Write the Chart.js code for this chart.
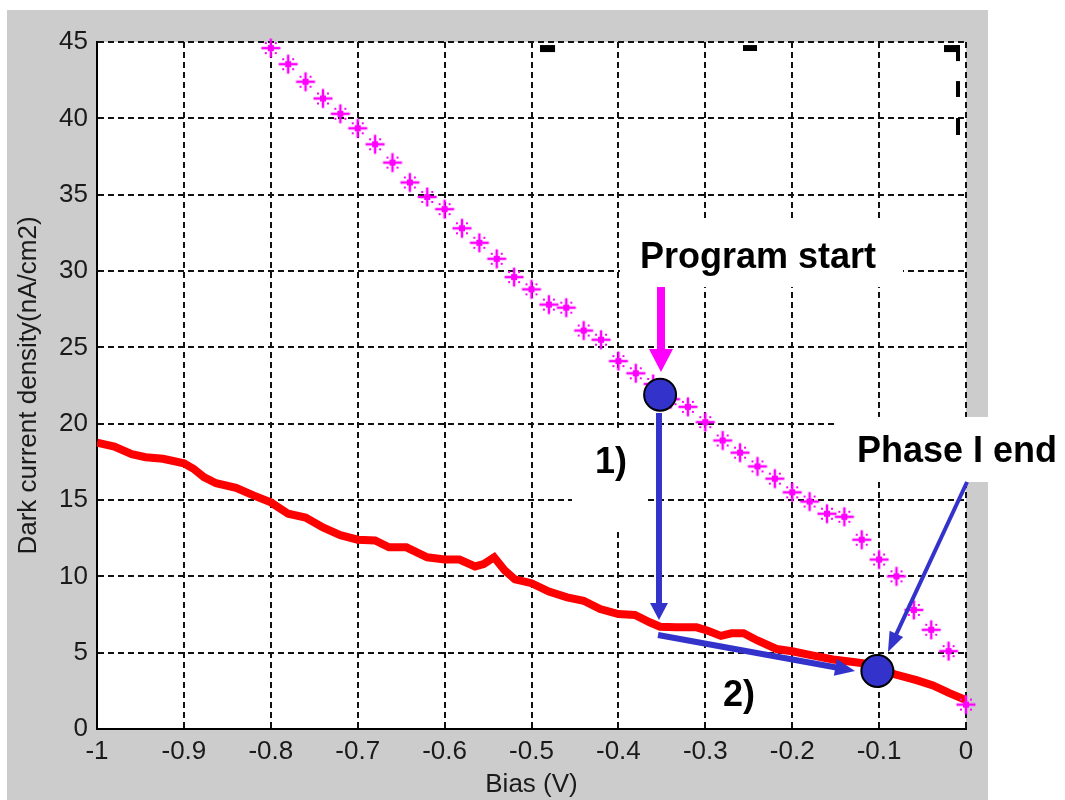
<!DOCTYPE html>
<html>
<head>
<meta charset="utf-8">
<title>Dark current density vs bias</title>
<script src="https://cdn.jsdelivr.net/npm/chart.js@4.4.1/dist/chart.umd.min.js"></script>
<style>
  html, body { margin: 0; padding: 0; background: #fff; }
  #wrap { width: 1065px; height: 800px; }
</style>
</head>
<body>
<div id="wrap"><canvas id="chart" width="1065" height="800"></canvas></div>
<script>
// ---- values ----
const redBias = [-1.00, -0.98, -0.96, -0.944, -0.924, -0.90, -0.889, -0.877, -0.863, -0.84,
  -0.82, -0.80, -0.78, -0.76, -0.74, -0.72, -0.70, -0.68, -0.664, -0.644,
  -0.62, -0.60, -0.583, -0.565, -0.555, -0.543, -0.531, -0.519, -0.50, -0.48,
  -0.459, -0.44, -0.421, -0.40, -0.381, -0.364, -0.352, -0.333, -0.31, -0.297,
  -0.282, -0.27, -0.256, -0.24, -0.218, -0.20, -0.18, -0.153, -0.125, -0.10,
  -0.083, -0.057, -0.038, -0.019, 0.00];
const redCurrent = [18.75, 18.5, 18.0, 17.8, 17.7, 17.4, 17.05, 16.5, 16.1, 15.8,
  15.3, 14.85, 14.1, 13.85, 13.2, 12.7, 12.4, 12.35, 11.9, 11.9,
  11.25, 11.1, 11.1, 10.65, 10.8, 11.25, 10.4, 9.8, 9.55, 9.0,
  8.62, 8.4, 7.86, 7.53, 7.47, 6.99, 6.7, 6.66, 6.66, 6.44,
  6.1, 6.27, 6.27, 5.8, 5.24, 5.09, 4.85, 4.55, 4.35, 4.15,
  3.6, 3.2, 2.85, 2.35, 1.9];

const starBias = [-0.80, -0.78, -0.76, -0.74, -0.72, -0.70, -0.68, -0.66, -0.64, -0.62,
  -0.60, -0.58, -0.56, -0.54, -0.52, -0.50, -0.48, -0.46, -0.44, -0.42,
  -0.40, -0.38, -0.36, -0.34, -0.32, -0.30, -0.28, -0.26, -0.24, -0.22,
  -0.20, -0.18, -0.16, -0.14, -0.12, -0.10, -0.08, -0.06, -0.04, -0.02, 0.00];
const starCurrent = [44.6, 43.55, 42.4, 41.3, 40.3, 39.35, 38.3, 37.1, 35.8, 34.85,
  34.05, 32.8, 31.85, 30.8, 29.6, 28.8, 27.8, 27.6, 26.1, 25.5,
  24.1, 23.3, 22.6, 21.6, 21.1, 20.1, 18.9, 18.1, 17.2, 16.4,
  15.5, 14.9, 14.1, 13.9, 12.4, 11.1, 10.0, 7.8, 6.5, 5.1, 1.6];

const markerBias = [-0.352, -0.102];
const markerCurrent = [21.9, 3.8];

const xTickLabels = ['-1', '-0.9', '-0.8', '-0.7', '-0.6', '-0.5', '-0.4', '-0.3', '-0.2', '-0.1', '0'];
const yTickLabels = ['0', '5', '10', '15', '20', '25', '30', '35', '40', '45'];

// annotations, in data units (bias, current)
const arrows = [
  { from: [-0.351, 28.95], to: [-0.351, 23.38], color: '#ff00ff', shaft: 8, head: 23, headW: 24 },
  { from: [-0.3533, 20.70], to: [-0.3533, 7.14], color: '#3333cc', shaft: 6, head: 17, headW: 18 },
  { from: [-0.3544, 6.16], to: [-0.1277, 3.80], color: '#3333cc', shaft: 6, head: 20, headW: 17 },
  { from: [0.0012, 16.18], to: [-0.0898, 5.04], color: '#3333cc', shaft: 4, head: 20, headW: 15 }
];
const labelBoxes = [
  [-0.3982, 33.27, -0.0725, 28.95],
  [-0.1485, 20.44, 0.1139, 16.18],
  [-0.4534, 19.72, -0.3659, 12.90]
];
const labels = [
  { text: 'Program start', at: [-0.3751, 30.20] },
  { text: 'Phase I end', at: [-0.1254, 17.49] },
  { text: '1)', at: [-0.4269, 16.77] },
  { text: '2)', at: [-0.2796, 1.51] }
];
// leftover bits of an old legend frame, top right
const leftovers = [
  [-0.4902, 44.80, -0.4729, 44.34],
  [-0.2566, 44.80, -0.2405, 44.41],
  [-0.0253, 44.80, -0.0081, 44.34],
  [-0.0115, 44.80, -0.0069, 43.75],
  [-0.0115, 42.44, -0.0069, 41.40],
  [-0.0115, 40.02, -0.0069, 38.91]
];

const FONT = "'Liberation Sans', Arial, sans-serif";

// MATLAB style '*' marker
function makeAsterisk() {
  const c = document.createElement('canvas');
  c.width = 22; c.height = 22;
  const g = c.getContext('2d');
  g.strokeStyle = '#ff00ff';
  g.fillStyle = '#ff00ff';
  g.lineWidth = 2.5;
  g.beginPath();
  g.moveTo(1.5, 11); g.lineTo(20.5, 11);
  g.moveTo(11, 1.5); g.lineTo(11, 20.5);
  g.stroke();
  g.fillRect(8, 8, 6, 6);
  [[-5, -5], [5, -5], [-5, 5], [5, 5]].forEach(([dx, dy]) => g.fillRect(11 + dx - 1, 11 + dy - 1, 2, 2));
  return c;
}

const backdrop = {
  id: 'backdrop',
  beforeDraw(chart) {
    const { ctx, chartArea: a } = chart;
    ctx.save();
    ctx.fillStyle = '#ffffff';
    ctx.fillRect(0, 0, chart.width, chart.height);
    ctx.fillStyle = '#cccccc';
    ctx.fillRect(7, 10, 981, chart.height - 10);
    ctx.fillStyle = '#ffffff';
    ctx.fillRect(a.left, a.top, a.right - a.left, a.bottom - a.top);
    ctx.restore();
  }
};

function drawArrow(ctx, x0, y0, x1, y1, o) {
  const dx = x1 - x0, dy = y1 - y0;
  const len = Math.hypot(dx, dy);
  const ux = dx / len, uy = dy / len;
  const bx = x1 - ux * o.head, by = y1 - uy * o.head;
  ctx.strokeStyle = o.color;
  ctx.fillStyle = o.color;
  ctx.lineWidth = o.shaft;
  ctx.lineCap = 'butt';
  ctx.beginPath();
  ctx.moveTo(x0, y0);
  ctx.lineTo(bx + ux, by + uy);
  ctx.stroke();
  ctx.beginPath();
  ctx.moveTo(x1, y1);
  ctx.lineTo(bx - uy * o.headW / 2, by + ux * o.headW / 2);
  ctx.lineTo(bx + uy * o.headW / 2, by - ux * o.headW / 2);
  ctx.closePath();
  ctx.fill();
}

const notes = {
  id: 'notes',
  beforeDatasetsDraw(chart) {
    const { ctx, scales: { x, y } } = chart;
    ctx.save();
    ctx.fillStyle = '#ffffff';
    labelBoxes.forEach(([x0, y0, x1, y1]) => {
      const px0 = x.getPixelForValue(x0), py0 = y.getPixelForValue(y0);
      const px1 = x.getPixelForValue(x1), py1 = y.getPixelForValue(y1);
      ctx.fillRect(px0, py0, px1 - px0, py1 - py0);
    });
    ctx.fillStyle = '#000000';
    leftovers.forEach(([x0, y0, x1, y1]) => {
      const px0 = x.getPixelForValue(x0), py0 = y.getPixelForValue(y0);
      const px1 = x.getPixelForValue(x1), py1 = y.getPixelForValue(y1);
      ctx.fillRect(px0, py0, px1 - px0, py1 - py0);
    });
    ctx.restore();
  },
  afterDatasetsDraw(chart) {
    const { ctx, scales: { x, y } } = chart;
    ctx.save();
    arrows.forEach(a => {
      drawArrow(ctx,
        x.getPixelForValue(a.from[0]), y.getPixelForValue(a.from[1]),
        x.getPixelForValue(a.to[0]), y.getPixelForValue(a.to[1]), a);
    });
    ctx.fillStyle = '#000000';
    ctx.font = 'bold 36px ' + FONT;
    ctx.textAlign = 'left';
    ctx.textBaseline = 'alphabetic';
    labels.forEach(l => {
      ctx.fillText(l.text, x.getPixelForValue(l.at[0]), y.getPixelForValue(l.at[1]));
    });
    ctx.restore();
  }
};

const ctx = document.getElementById('chart').getContext('2d');
new Chart(ctx, {
  type: 'scatter',
  data: {
    datasets: [
      {
        label: 'Dark current',
        data: redBias.map((b, i) => ({ x: b, y: redCurrent[i] })),
        showLine: true,
        borderColor: '#ff0000',
        borderWidth: 8,
        pointRadius: 0,
        tension: 0,
        order: 3
      },
      {
        label: 'Stars',
        data: starBias.map((b, i) => ({ x: b, y: starCurrent[i] })),
        showLine: false,
        pointStyle: makeAsterisk(),
        pointRadius: 9,
        clip: false,
        order: 2
      },
      {
        label: 'Markers',
        data: markerBias.map((b, i) => ({ x: b, y: markerCurrent[i] })),
        showLine: false,
        pointStyle: 'circle',
        pointRadius: 16,
        backgroundColor: '#3333cc',
        borderColor: '#000000',
        borderWidth: 2,
        order: 1
      }
    ]
  },
  options: {
    responsive: false,
    animation: false,
    layout: { padding: { left: 0, top: 42, right: 99, bottom: 0 } },
    plugins: {
      legend: { display: false },
      tooltip: { enabled: false }
    },
    scales: {
      x: {
        type: 'linear',
        min: -1,
        max: 0,
        afterFit(scale) { scale.height = 71; },
        afterBuildTicks(scale) {
          scale.ticks = xTickLabels.map((t, i) => ({ value: -1 + i * 0.1 }));
        },
        ticks: {
          autoSkip: false,
          maxRotation: 0,
          padding: 7,
          color: '#1a1a1a',
          font: { family: FONT, size: 26 },
          callback: (v, i) => xTickLabels[i]
        },
        grid: { color: '#111', lineWidth: 2, drawTicks: false },
        border: { display: true, color: '#000', width: 2, dash: [6, 4] },
        title: {
          display: true,
          text: 'Bias (V)',
          color: '#1a1a1a',
          font: { family: FONT, size: 26 },
          padding: { top: 0, bottom: 0 }
        }
      },
      y: {
        type: 'linear',
        min: 0,
        max: 45,
        afterFit(scale) { scale.width = 97; },
        afterBuildTicks(scale) {
          scale.ticks = yTickLabels.map((t, i) => ({ value: i * 5 }));
        },
        ticks: {
          padding: 9,
          color: '#1a1a1a',
          font: { family: FONT, size: 26 },
          callback: (v, i) => yTickLabels[i]
        },
        grid: { color: '#111', lineWidth: 2, drawTicks: false },
        border: { display: true, color: '#000', width: 2, dash: [6, 4] },
        title: {
          display: true,
          text: 'Dark current density(nA/cm2)',
          color: '#1a1a1a',
          font: { family: FONT, size: 26 },
          padding: { top: 13, bottom: 0 }
        }
      }
    }
  },
  plugins: [backdrop, notes]
});
</script>
</body>
</html>
